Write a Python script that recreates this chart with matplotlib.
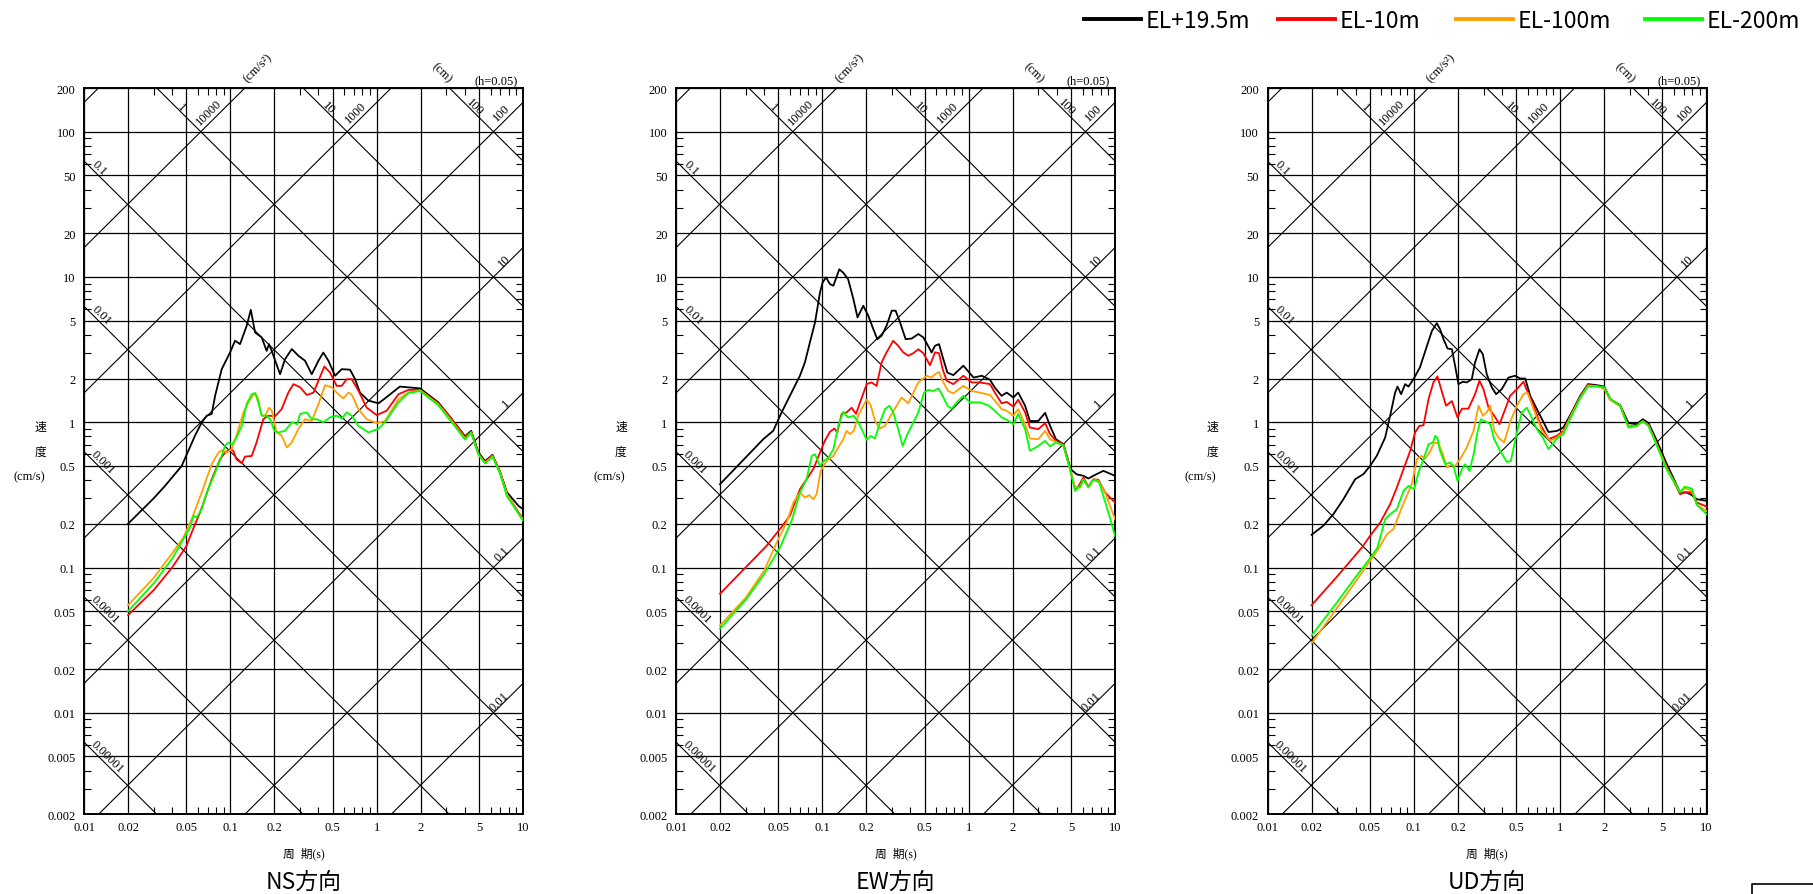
import numpy as np
import matplotlib
matplotlib.use("Agg")
import matplotlib.pyplot as plt
from matplotlib.ticker import FixedLocator, FixedFormatter, NullFormatter
from matplotlib.lines import Line2D

# ---------------- data ----------------
panel_titles = ["NS方向", "EW方向", "UD方向"]
series_labels = ["EL+19.5m", "EL-10m", "EL-100m", "EL-200m"]
series_colors = ["#000000", "#FF0000", "#FFA000", "#00FF00"]

x_tick_values = [0.01, 0.02, 0.05, 0.1, 0.2, 0.5, 1, 2, 5, 10]
x_tick_labels = ["0.01", "0.02", "0.05", "0.1", "0.2", "0.5", "1", "2", "5", "10"]
y_tick_values = [0.002, 0.005, 0.01, 0.02, 0.05, 0.1, 0.2, 0.5, 1, 2, 5, 10, 20, 50, 100, 200]
y_tick_labels = ["0.002", "0.005", "0.01", "0.02", "0.05", "0.1", "0.2", "0.5", "1", "2", "5",
                 "10", "20", "50", "100", "200"]

disp_lines = [1e-5, 1e-4, 1e-3, 1e-2, 1e-1, 1, 10, 100]          # cm
acc_lines = [1e-2, 1e-1, 1, 10, 100, 1000, 10000, 100000]         # cm/s2
disp_top_labels = ["1", "10", "100"]
disp_left_labels = ["0.1", "0.01", "0.001", "0.0001", "0.00001"]
acc_top_labels = ["10000", "1000", "100"]
acc_right_labels = ["10", "1", "0.1", "0.01"]

# NS
ns_blk_T = [0.02, 0.025, 0.03, 0.0358, 0.0465, 0.0574, 0.0637, 0.069, 0.0746, 0.0787, 0.0873, 0.0995, 0.1077,
            0.1165, 0.1294, 0.138, 0.1476, 0.1637, 0.177, 0.1838, 0.1918, 0.2187, 0.2366, 0.263, 0.292, 0.324,
            0.360, 0.400, 0.432, 0.468, 0.520, 0.577, 0.658, 0.712, 0.769, 0.877, 1.03, 1.20, 1.44, 1.98, 2.64,
            3.26, 4.02, 4.42, 4.96, 5.51, 6.19, 6.98, 7.76, 9.31, 10.0]
ns_blk_V = [0.20, 0.25, 0.30, 0.365, 0.50, 0.81, 0.996, 1.11, 1.14, 1.52, 2.32, 3.02, 3.64, 3.45, 4.62, 5.94,
            4.15, 3.84, 3.10, 3.45, 3.10, 2.14, 2.72, 3.19, 2.87, 2.65, 2.14, 2.65, 3.02, 2.65, 2.09, 2.32,
            2.30, 1.98, 1.60, 1.41, 1.35, 1.52, 1.76, 1.71, 1.37, 1.05, 0.80, 0.873, 0.62, 0.54, 0.596, 0.455,
            0.33, 0.266, 0.252]
ns_red_T = [0.02, 0.03, 0.04, 0.05, 0.0574, 0.0621, 0.0746, 0.0851, 0.092, 0.0995, 0.105, 0.110, 0.1197, 0.126,
            0.140, 0.151, 0.168, 0.182, 0.202, 0.224, 0.249, 0.270, 0.300, 0.333, 0.370, 0.404, 0.439, 0.480,
            0.533, 0.577, 0.624, 0.676, 0.750, 0.855, 1.0, 1.17, 1.41, 1.65, 1.98, 2.64, 3.26, 4.02, 4.42,
            4.96, 5.51, 6.19, 6.98, 7.76, 9.31, 10.0]
ns_red_V = [0.047, 0.07, 0.10, 0.14, 0.199, 0.239, 0.405, 0.556, 0.618, 0.652, 0.635, 0.556, 0.522, 0.58,
            0.586, 0.725, 1.05, 1.11, 1.10, 1.23, 1.60, 1.83, 1.74, 1.54, 1.60, 1.98, 2.42, 2.20, 1.78, 1.78,
            1.98, 1.98, 1.65, 1.26, 1.12, 1.20, 1.56, 1.67, 1.67, 1.35, 1.05, 0.79, 0.86, 0.61, 0.53, 0.59,
            0.45, 0.32, 0.24, 0.217]
ns_org_T = [0.02, 0.03, 0.04, 0.0478, 0.0544, 0.0637, 0.0746, 0.0828, 0.0883, 0.0944, 0.102, 0.110, 0.123,
            0.133, 0.146, 0.154, 0.164, 0.173, 0.184, 0.192, 0.207, 0.224, 0.243, 0.263, 0.292, 0.324, 0.36,
            0.40, 0.444, 0.493, 0.547, 0.592, 0.641, 0.676, 0.750, 0.855, 1.0, 1.14, 1.41, 1.65, 1.98, 2.64,
            3.26, 4.02, 4.42, 4.96, 5.51, 6.19, 6.98, 7.76, 9.31, 10.0]
ns_org_V = [0.055, 0.085, 0.125, 0.161, 0.215, 0.328, 0.514, 0.618, 0.644, 0.618, 0.652, 0.806, 1.17, 1.37,
            1.58, 1.48, 1.11, 1.11, 1.26, 1.20, 0.851, 0.81, 0.67, 0.727, 0.90, 1.05, 1.02, 1.33, 1.80, 1.74,
            1.56, 1.46, 1.60, 1.55, 1.23, 1.05, 0.986, 1.02, 1.44, 1.60, 1.66, 1.33, 1.02, 0.77, 0.85, 0.60,
            0.525, 0.585, 0.45, 0.32, 0.235, 0.215]
ns_grn_T = [0.02, 0.03, 0.04, 0.0478, 0.0531, 0.056, 0.0589, 0.0637, 0.069, 0.0787, 0.0865, 0.092, 0.097, 0.103,
            0.110, 0.1197, 0.129, 0.140, 0.148, 0.155, 0.164, 0.177, 0.187, 0.20, 0.213, 0.2366, 0.263, 0.286,
            0.30, 0.333, 0.36, 0.389, 0.432, 0.480, 0.533, 0.577, 0.624, 0.676, 0.750, 0.877, 1.03, 1.14, 1.41,
            1.65, 1.98, 2.64, 3.26, 4.02, 4.42, 4.96, 5.51, 6.19, 6.98, 7.76, 9.31, 10.0]
ns_grn_V = [0.05, 0.078, 0.115, 0.157, 0.189, 0.227, 0.221, 0.252, 0.328, 0.45, 0.573, 0.689, 0.725, 0.706,
            0.785, 0.944, 1.33, 1.56, 1.59, 1.37, 1.11, 1.11, 1.05, 0.873, 0.851, 0.873, 1.0, 0.97, 1.14, 1.17,
            1.05, 1.05, 1.0, 1.08, 1.11, 1.06, 1.17, 1.11, 0.944, 0.851, 0.90, 1.0, 1.37, 1.59, 1.64, 1.31, 1.0,
            0.76, 0.85, 0.60, 0.52, 0.58, 0.44, 0.31, 0.235, 0.21]

# EW
ew_blk_T = [0.02, 0.0395, 0.0462, 0.0527, 0.060, 0.0667, 0.0703, 0.076, 0.0822, 0.0891, 0.0964, 0.1005, 0.106,
            0.1128, 0.119, 0.1306, 0.139, 0.150, 0.163, 0.174, 0.1905, 0.206, 0.223, 0.2375, 0.254, 0.275,
            0.298, 0.317, 0.340, 0.371, 0.408, 0.453, 0.490, 0.544, 0.558, 0.589, 0.627, 0.671, 0.715, 0.785,
            0.92, 1.08, 1.23, 1.40, 1.51, 1.68, 1.82, 2.02, 2.18, 2.43, 2.62, 2.99, 3.33, 3.60, 3.95, 4.44,
            4.98, 5.47, 6.08, 6.58, 7.11, 8.33, 10.0]
ew_blk_V = [0.375, 0.765, 0.874, 1.17, 1.52, 1.88, 2.09, 2.58, 3.54, 4.86, 7.83, 9.18, 9.93, 8.93, 8.71, 11.3,
            10.7, 9.67, 7.05, 5.27, 6.34, 5.41, 4.38, 3.73, 3.94, 4.62, 5.86, 5.86, 4.86, 3.73, 3.77, 4.05,
            3.84, 3.18, 3.02, 3.36, 3.45, 2.72, 2.20, 2.11, 2.45, 2.03, 2.09, 1.96, 1.73, 1.52, 1.60, 1.48,
            1.60, 1.30, 1.02, 1.02, 1.16, 0.944, 0.764, 0.706, 0.475, 0.438, 0.428, 0.41, 0.428, 0.463, 0.428]
ew_red_T = [0.02, 0.0416, 0.0513, 0.060, 0.0703, 0.0781, 0.0867, 0.0964, 0.104, 0.1128, 0.121, 0.1265, 0.1355,
            0.1466, 0.1585, 0.170, 0.181, 0.201, 0.217, 0.235, 0.254, 0.275, 0.305, 0.330, 0.357, 0.387, 0.419,
            0.453, 0.490, 0.544, 0.589, 0.627, 0.664, 0.708, 0.785, 0.92, 1.05, 1.19, 1.40, 1.51, 1.68, 1.82,
            2.02, 2.18, 2.43, 2.62, 2.99, 3.33, 3.60, 3.95, 4.44, 4.93, 5.33, 5.62, 6.08, 6.58, 7.11, 7.69,
            8.55, 10.0]
ew_red_V = [0.066, 0.141, 0.184, 0.227, 0.346, 0.405, 0.475, 0.619, 0.745, 0.86, 0.906, 0.85, 1.14, 1.17,
            1.26, 1.14, 1.37, 1.83, 1.88, 1.78, 2.58, 3.03, 3.64, 3.36, 3.03, 2.87, 2.99, 3.18, 2.99, 2.47,
            3.03, 2.99, 2.32, 1.93, 1.83, 2.09, 1.88, 1.88, 1.83, 1.60, 1.35, 1.38, 1.28, 1.43, 1.17, 0.92,
            0.896, 0.986, 0.828, 0.745, 0.706, 0.475, 0.35, 0.361, 0.417, 0.361, 0.405, 0.402, 0.329, 0.28]
ew_org_T = [0.02, 0.03, 0.04, 0.050, 0.057, 0.0634, 0.0703, 0.076, 0.0815, 0.0867, 0.0914, 0.0973, 0.107,
            0.119, 0.1306, 0.139, 0.1466, 0.1545, 0.164, 0.176, 0.1875, 0.201, 0.214, 0.229, 0.248, 0.268,
            0.298, 0.322, 0.348, 0.387, 0.419, 0.453, 0.490, 0.516, 0.558, 0.589, 0.627, 0.671, 0.726, 0.785,
            0.92, 1.05, 1.19, 1.40, 1.51, 1.68, 1.82, 2.02, 2.18, 2.43, 2.62, 2.99, 3.33, 3.60, 3.95, 4.44,
            4.93, 5.33, 5.8, 6.08, 6.58, 7.11, 7.69, 8.55, 10.0]
ew_org_V = [0.040, 0.062, 0.095, 0.157, 0.204, 0.28, 0.328, 0.303, 0.315, 0.295, 0.32, 0.462, 0.542, 0.586,
            0.687, 0.764, 0.873, 0.828, 0.873, 1.11, 1.26, 1.43, 1.31, 1.02, 0.906, 0.944, 1.14, 1.30, 1.48,
            1.35, 1.60, 1.88, 2.0, 2.09, 2.03, 2.14, 2.22, 1.88, 1.64, 1.58, 1.78, 1.64, 1.60, 1.54, 1.41,
            1.23, 1.20, 1.11, 1.23, 0.97, 0.773, 0.764, 0.873, 0.764, 0.733, 0.687, 0.475, 0.356, 0.356,
            0.405, 0.356, 0.405, 0.395, 0.329, 0.215]
ew_grn_T = [0.02, 0.03, 0.04, 0.0513, 0.0617, 0.0703, 0.078, 0.0846, 0.0891, 0.0964, 0.1025, 0.11, 0.119,
            0.1285, 0.139, 0.150, 0.164, 0.176, 0.1905, 0.201, 0.214, 0.229, 0.248, 0.268, 0.287, 0.305, 0.330,
            0.354, 0.377, 0.419, 0.453, 0.495, 0.530, 0.573, 0.621, 0.664, 0.715, 0.765, 0.828, 0.92, 1.02,
            1.19, 1.36, 1.51, 1.68, 1.82, 2.02, 2.18, 2.43, 2.62, 2.99, 3.33, 3.60, 3.95, 4.44, 4.93, 5.33,
            5.8, 6.08, 6.58, 7.11, 7.8, 9.3, 10.0]
ew_grn_V = [0.038, 0.06, 0.09, 0.137, 0.21, 0.328, 0.405, 0.586, 0.602, 0.501, 0.542, 0.571, 0.652, 0.944,
            1.18, 1.08, 1.11, 1.0, 0.85, 0.756, 0.806, 0.773, 1.0, 1.23, 1.30, 1.17, 0.896, 0.687, 0.806, 1.0,
            1.17, 1.60, 1.67, 1.64, 1.71, 1.52, 1.30, 1.24, 1.37, 1.52, 1.37, 1.37, 1.31, 1.20, 1.08, 1.04,
            0.97, 1.14, 0.896, 0.635, 0.687, 0.745, 0.681, 0.726, 0.695, 0.475, 0.337, 0.365, 0.405, 0.356,
            0.405, 0.385, 0.215, 0.165]

# UD
ud_blk_T = [0.02, 0.0241, 0.0282, 0.033, 0.0397, 0.0453, 0.0502, 0.0558, 0.0637, 0.0689, 0.0745, 0.0773,
            0.0819, 0.0872, 0.0919, 0.0994, 0.110, 0.123, 0.133, 0.1435, 0.151, 0.1595, 0.170, 0.182, 0.1915,
            0.2018, 0.216, 0.230, 0.249, 0.262, 0.281, 0.296, 0.315, 0.341, 0.365, 0.399, 0.443, 0.492, 0.533,
            0.577, 0.624, 0.711, 0.832, 0.949, 1.05, 1.20, 1.37, 1.55, 1.78, 2.0, 2.2, 2.57, 2.93, 3.34, 3.67,
            4.02, 4.58, 5.36, 6.61, 7.34, 7.94, 8.59, 10.0]
ud_blk_V = [0.168, 0.194, 0.233, 0.295, 0.405, 0.44, 0.50, 0.587, 0.785, 1.11, 1.60, 1.76, 1.56, 1.83, 1.76,
            1.98, 2.38, 3.36, 4.26, 4.81, 4.38, 3.73, 3.22, 3.18, 2.44, 1.83, 1.90, 1.88, 1.98, 2.58, 3.18,
            2.94, 2.14, 1.74, 1.56, 1.69, 2.03, 2.09, 2.0, 2.0, 1.52, 1.17, 0.857, 0.871, 0.918, 1.17, 1.52,
            1.83, 1.80, 1.76, 1.44, 1.31, 0.986, 0.97, 1.05, 0.986, 0.745, 0.514, 0.328, 0.328, 0.315, 0.295,
            0.288]
ud_red_T = [0.02, 0.03, 0.0441, 0.0502, 0.0589, 0.0689, 0.0766, 0.085, 0.0944, 0.102, 0.109, 0.1164, 0.126,
            0.136, 0.145, 0.155, 0.166, 0.182, 0.1988, 0.213, 0.236, 0.262, 0.281, 0.299, 0.324, 0.354, 0.385,
            0.421, 0.455, 0.506, 0.561, 0.608, 0.658, 0.730, 0.832, 0.949, 1.05, 1.20, 1.37, 1.55, 1.78, 2.0,
            2.2, 2.57, 2.93, 3.34, 3.67, 4.02, 4.58, 5.36, 6.61, 7.1, 7.94, 8.59, 10.0]
ud_red_V = [0.055, 0.087, 0.137, 0.165, 0.204, 0.273, 0.356, 0.475, 0.635, 0.85, 0.944, 0.953, 1.44, 1.88,
            2.07, 1.64, 1.30, 1.40, 1.08, 1.24, 1.24, 1.56, 1.93, 1.69, 1.26, 1.11, 0.97, 1.23, 1.52, 1.69,
            1.90, 1.56, 1.30, 0.97, 0.764, 0.806, 0.871, 1.14, 1.48, 1.80, 1.78, 1.71, 1.43, 1.30, 0.935,
            0.944, 1.02, 0.955, 0.706, 0.488, 0.319, 0.33, 0.33, 0.28, 0.263]
ud_org_T = [0.02, 0.03, 0.04, 0.05, 0.0573, 0.0653, 0.0726, 0.0828, 0.0895, 0.0968, 0.105, 0.113, 0.119, 0.128,
            0.138, 0.147, 0.158, 0.168, 0.177, 0.1915, 0.207, 0.230, 0.256, 0.277, 0.296, 0.315, 0.333, 0.354,
            0.379, 0.414, 0.455, 0.506, 0.561, 0.598, 0.658, 0.75, 0.855, 0.949, 1.05, 1.20, 1.37, 1.55, 1.78,
            2.0, 2.2, 2.57, 2.93, 3.34, 3.67, 4.02, 4.58, 5.36, 6.61, 7.1, 7.94, 8.59, 10.0]
ud_org_V = [0.030, 0.053, 0.080, 0.110, 0.134, 0.169, 0.184, 0.259, 0.311, 0.375, 0.557, 0.587, 0.56, 0.618,
            0.725, 0.72, 0.602, 0.488, 0.506, 0.50, 0.557, 0.67, 0.873, 1.30, 1.11, 1.17, 1.30, 0.873, 0.785,
            0.725, 1.0, 1.30, 1.56, 1.60, 1.23, 0.873, 0.745, 0.785, 0.85, 1.14, 1.48, 1.79, 1.77, 1.72, 1.42,
            1.29, 0.93, 0.94, 1.01, 0.95, 0.70, 0.48, 0.33, 0.35, 0.34, 0.27, 0.245]
ud_grn_T = [0.02, 0.03, 0.04, 0.05, 0.0564, 0.0637, 0.0689, 0.0766, 0.085, 0.0919, 0.1005, 0.1076, 0.1164,
            0.126, 0.135, 0.140, 0.145, 0.151, 0.164, 0.177, 0.1866, 0.1988, 0.213, 0.224, 0.240, 0.256, 0.272,
            0.287, 0.315, 0.333, 0.354, 0.389, 0.432, 0.46, 0.506, 0.547, 0.592, 0.630, 0.693, 0.761, 0.832,
            0.949, 1.05, 1.20, 1.37, 1.55, 1.78, 2.0, 2.2, 2.57, 2.93, 3.34, 3.67, 4.02, 4.58, 5.36, 6.61, 7.1,
            7.94, 8.59, 10.0]
ud_grn_V = [0.034, 0.058, 0.086, 0.115, 0.137, 0.215, 0.233, 0.252, 0.337, 0.365, 0.346, 0.451, 0.557, 0.706,
            0.725, 0.806, 0.78, 0.635, 0.514, 0.528, 0.50, 0.394, 0.475, 0.514, 0.462, 0.602, 0.85, 1.05, 1.0,
            0.97, 0.764, 0.635, 0.533, 0.54, 0.85, 1.17, 1.26, 1.11, 0.896, 0.785, 0.653, 0.773, 0.826, 1.11,
            1.46, 1.76, 1.77, 1.74, 1.45, 1.30, 0.92, 0.95, 1.02, 0.94, 0.69, 0.47, 0.33, 0.36, 0.35, 0.27,
            0.233]

panel_series = [
    [(ns_blk_T, ns_blk_V), (ns_red_T, ns_red_V), (ns_org_T, ns_org_V), (ns_grn_T, ns_grn_V)],
    [(ew_blk_T, ew_blk_V), (ew_red_T, ew_red_V), (ew_org_T, ew_org_V), (ew_grn_T, ew_grn_V)],
    [(ud_blk_T, ud_blk_V), (ud_red_T, ud_red_V), (ud_org_T, ud_org_V), (ud_grn_T, ud_grn_V)],
]

# ---------------- layout ----------------
W, H = 1813, 895
plt.rcParams["font.family"] = ["Liberation Serif", "Noto Sans CJK JP"]
CJK = ["Noto Sans CJK JP", "DejaVu Sans"]
fig = plt.figure(figsize=(W / 100, H / 100), dpi=100)

def fx(px):
    return px / W

def fy(py):
    return 1 - py / H

panel_left_px = [84, 676, 1267.5]
ax_w_px = 439
ax_top_px, ax_bot_px = 89, 815.3
ax_h_px = ax_bot_px - ax_top_px
xmin, xmax, ymin, ymax = 0.01, 10, 0.002, 200
pxx = ax_w_px / 3.0     # px per decade x
pxy = ax_h_px / 5.0     # px per decade y
ang = np.degrees(np.arctan(pxy / pxx))
twopi = 2 * np.pi

x_minor = [k * 10.0 ** e for e in (-2, -1, 0) for k in (3, 4, 6, 7, 8, 9)]
y_minor = [k * 10.0 ** e for e in (-3, -2, -1, 0, 1, 2) for k in (3, 4, 6, 7, 8, 9)
           if ymin < k * 10.0 ** e < ymax]
Tgrid = np.logspace(-2, 1, 200)
dfs = 9

for i, left in enumerate(panel_left_px):
    ax = fig.add_axes([fx(left), fy(ax_bot_px), ax_w_px / W, ax_h_px / H])
    ax.set_xscale("log")
    ax.set_yscale("log")
    ax.set_xlim(xmin, xmax)
    ax.set_ylim(ymin, ymax)
    ax.xaxis.set_major_locator(FixedLocator(x_tick_values))
    ax.xaxis.set_major_formatter(FixedFormatter(x_tick_labels))
    ax.yaxis.set_major_locator(FixedLocator(y_tick_values))
    ax.yaxis.set_major_formatter(FixedFormatter(y_tick_labels))
    ax.xaxis.set_minor_locator(FixedLocator(x_minor))
    ax.yaxis.set_minor_locator(FixedLocator(y_minor))
    ax.xaxis.set_minor_formatter(NullFormatter())
    ax.yaxis.set_minor_formatter(NullFormatter())
    ax.tick_params(which="major", length=0, labelsize=dfs)
    ax.tick_params(axis="x", which="major", pad=5)
    ax.tick_params(axis="y", which="major", pad=6)
    ax.tick_params(which="minor", direction="in", length=5, width=0.8,
                   top=True, right=True, bottom=True, left=True)
    ax.grid(True, which="major", color="black", linewidth=0.9)
    for s in ax.spines.values():
        s.set_linewidth(1.4)

    # tripartite diagonal lines
    for D in disp_lines:
        ax.plot(Tgrid, twopi * D / Tgrid, color="black", lw=0.8, zorder=1.5)
    for A in acc_lines:
        ax.plot(Tgrid, A * Tgrid / twopi, color="black", lw=0.8, zorder=1.5)

    # diagonal labels
    for lab in disp_top_labels:
        D = float(lab)
        T = twopi * D / ymax * 10 ** (25 / pxx)
        ax.annotate(lab, (T, twopi * D / T), xytext=(0, 6), textcoords="offset pixels",
                    rotation=-ang, ha="center", va="center", rotation_mode="anchor",
                    fontsize=dfs, annotation_clip=False)
    for lab in disp_left_labels:
        D = float(lab)
        T = xmin * 10 ** ((9 + 2 * len(lab)) / pxx)
        ax.annotate(lab, (T, twopi * D / T), xytext=(0, 9), textcoords="offset pixels",
                    rotation=-ang, ha="center", va="center", rotation_mode="anchor",
                    fontsize=dfs, annotation_clip=False)
    for lab in acc_top_labels:
        A = float(lab)
        T = twopi * ymax / A * 10 ** (-36 / pxx)
        ax.annotate(lab, (T, A * T / twopi), xytext=(0, 11.5), textcoords="offset pixels",
                    rotation=ang, ha="center", va="center", rotation_mode="anchor",
                    fontsize=dfs, annotation_clip=False)
    for lab in acc_right_labels:
        A = float(lab)
        T = xmax * 10 ** (-(14 + 2.5 * len(lab)) / pxx)
        ax.annotate(lab, (T, A * T / twopi), xytext=(0, 6.5), textcoords="offset pixels",
                    rotation=ang, ha="center", va="center", rotation_mode="anchor",
                    fontsize=dfs, annotation_clip=False)

    # spectra
    for (T, V), c in zip(panel_series[i], series_colors):
        ax.plot(T, V, color=c, lw=1.3, zorder=3)

    # unit annotations
    fig.text(fx(left + 173.5), fy(68), "(cm/s²)", rotation=45, ha="center", va="center",
             fontsize=dfs, rotation_mode="anchor")
    fig.text(fx(left + 357.5), fy(73), "(cm)", rotation=-45, ha="center", va="center",
             fontsize=dfs, rotation_mode="anchor")
    fig.text(fx(left + ax_w_px - 5.5), fy(81.5), "(h=0.05)", ha="right", va="center", fontsize=dfs)

    # axis labels
    cx = left + ax_w_px / 2
    fig.text(fx(cx), fy(854), "周  期(s)", ha="center", va="center", fontsize=8.5)
    fig.text(fx(cx), fy(882), panel_titles[i], ha="center", va="center", fontsize=16.5, family=CJK)
    off1, off2 = (43.5, 55) if i == 0 else (55, 67)
    fig.text(fx(left - off1), fy(427), "速", ha="center", va="center", fontsize=8.5, family=CJK)
    fig.text(fx(left - off1), fy(452), "度", ha="center", va="center", fontsize=8.5, family=CJK)
    fig.text(fx(left - off2), fy(477.5), "(cm/s)", ha="center", va="center", fontsize=dfs)

# legend (manual, figure coordinates)
leg_line_x = [1083.5, 1278, 1456, 1645]
for x0, lab, c in zip(leg_line_x, series_labels, series_colors):
    fig.add_artist(Line2D([fx(x0), fx(x0 + 57)], [fy(20), fy(20)], color=c, lw=2.8,
                          transform=fig.transFigure))
    fig.text(fx(x0 + 62), fy(21), lab, ha="left", va="center", fontsize=16.5, family=CJK)

# partial frame at bottom-right
fig.add_artist(Line2D([fx(1752), fx(1752), fx(1813)], [fy(895), fy(884.5), fy(884.5)],
                      color="black", lw=1.2, transform=fig.transFigure))

fig.savefig("out.png", dpi=100)
